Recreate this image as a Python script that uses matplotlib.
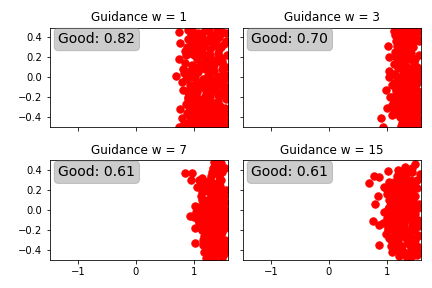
import matplotlib
matplotlib.use("Agg")
import matplotlib.pyplot as plt

weights = [1, 3, 7, 15]
good = [0.82, 0.70, 0.61, 0.61]

x1 = [0.74,0.77,0.74,0.70,0.82,0.76,0.80,0.75,0.90,0.88,0.85,0.82,0.80,0.90,0.88,0.92,0.95,
      0.98,1.02,1.00,0.97,0.95,1.00,1.02,0.98,1.00,1.08,1.10,1.05,1.08,1.12,1.06,1.10,1.05,1.12,
      1.20,1.18,1.22,1.20,1.16,1.22,1.18,1.20,1.16,1.30,1.28,1.32,1.26,1.30,1.28,1.32,1.26,1.30,
      1.40,1.38,1.42,1.36,1.40,1.38,1.42,1.36,1.40,1.50,1.48,1.45,1.50,1.52,1.48,1.45,1.50,1.54,
      1.57,1.58,1.56,1.58,1.57,1.55,1.58,0.93,1.03,1.15,1.25,1.35,1.45,1.24,1.34,0.85,0.98,
      0.90,0.92,0.88,0.92,1.04,1.03,1.06,1.04,1.14,1.13,1.14,1.12,1.24,1.22,1.23,1.34,1.33,1.34,
      1.44,1.44,1.44,1.53,1.53,1.52,0.86,0.94,1.02,1.10,1.18,1.26,1.34,1.42,1.50,1.10,1.30,1.46,
      0.96,1.14,1.26,1.36,1.46,1.56,1.00,1.16,1.34,1.44,0.90,1.08,1.20,1.28,1.40,1.50,0.84,1.00,1.12,1.24,1.36,1.46,
      0.86,1.02,1.14,1.28,1.38,1.56,0.94,1.06,1.18,1.30,1.42,1.52,0.90,1.04,1.20,1.32,1.44,1.56,0.86,1.00,1.10,1.24,1.36,1.52,
      0.96,1.12,1.26,1.38,1.46,1.58,0.92,1.08,1.18,1.30,1.40,1.50,0.84,0.96,1.16,1.28,1.38,1.46,0.90,1.02,1.14,1.24,1.34,1.44,1.56]
y1 = [0.45,0.34,0.18,0.01,-0.13,-0.32,-0.41,-0.50,0.48,0.30,0.14,0.08,-0.05,-0.22,-0.36,-0.45,0.00,
      0.47,0.40,0.22,0.12,-0.10,-0.18,-0.30,-0.40,-0.49,0.44,0.30,0.18,0.05,-0.05,-0.15,-0.26,-0.38,-0.47,
      0.46,0.33,0.22,0.08,-0.02,-0.14,-0.25,-0.36,-0.46,0.42,0.28,0.16,0.04,-0.08,-0.20,-0.30,-0.41,-0.49,
      0.47,0.36,0.24,0.12,0.00,-0.12,-0.24,-0.33,-0.44,0.45,0.30,0.20,0.08,-0.03,-0.18,-0.29,-0.40,-0.48,
      0.36,0.22,0.10,-0.10,-0.22,-0.31,-0.44,0.24,0.00,0.40,0.36,-0.02,0.16,-0.36,0.07,0.26,0.33,
      0.38,0.06,-0.14,-0.30,0.34,0.10,-0.22,-0.33,0.24,0.13,-0.10,-0.31,0.12,-0.08,-0.30,0.34,-0.14,-0.38,
      -0.07,-0.36,0.40,0.33,-0.14,-0.46,0.22,-0.08,0.28,0.38,-0.40,0.48,-0.26,-0.49,0.14,-0.42,-0.46,0.30,
      0.43,0.44,0.38,0.41,0.43,0.44,0.28,0.30,0.31,0.28,0.24,0.21,0.18,0.22,0.18,0.16,0.04,0.03,0.12,0.00,0.06,0.01,
      -0.02,-0.07,-0.06,-0.02,-0.05,0.02,-0.14,-0.12,-0.10,-0.14,-0.18,-0.10,-0.20,-0.20,-0.19,-0.12,-0.16,-0.17,-0.27,-0.25,-0.22,-0.26,-0.28,-0.16,
      -0.33,-0.35,-0.28,-0.36,-0.30,-0.36,-0.38,-0.42,-0.40,-0.34,-0.36,-0.34,-0.46,-0.44,-0.44,-0.44,-0.46,-0.38,-0.49,-0.48,-0.49,-0.48,-0.49,-0.49,-0.48]

x2 = [1.03,1.04,1.04,0.99,1.00,0.90,0.93,1.05,1.12,1.17,1.15,1.13,1.12,1.10,1.06,1.09,1.13,1.16,
      1.25,1.22,1.28,1.25,1.22,1.28,1.25,1.22,1.28,1.25,1.35,1.32,1.38,1.35,1.32,1.38,1.35,1.32,1.38,1.34,
      1.45,1.42,1.47,1.44,1.42,1.47,1.44,1.42,1.47,1.43,1.55,1.57,1.53,1.57,1.55,1.57,1.52,1.56,1.50,1.30,1.20,1.40,1.50,
      1.18,1.20,1.18,1.20,1.16,1.28,1.30,1.28,1.30,1.38,1.38,1.38,1.46,1.48,1.50,1.52,1.24,1.33,1.40,1.34,1.44,1.28,
      1.56,1.52,1.58,1.22,
      1.14,1.24,1.34,1.42,1.18,1.26,1.36,1.46,1.56,1.16,1.28,1.38,1.50,1.20,1.30,1.40,1.54,1.14,1.24,1.34,1.44,1.55,
      1.12,1.22,1.32,1.42,1.52,1.16,1.26,1.36,1.48,1.10,1.22,1.30,1.40,1.50,1.18,1.28,1.38,1.46,1.56,1.12,1.22,1.34,1.44,1.54,
      1.10,1.20,1.30,1.40,1.50,1.12,1.24,1.36,1.46,1.56,1.26,1.34,1.42,1.52,1.30,1.40,1.50,1.58]
y2 = [0.31,0.20,0.06,-0.13,-0.31,-0.41,-0.50,0.00,0.46,0.36,0.25,0.13,0.03,-0.08,-0.20,-0.28,-0.37,-0.25,
      0.47,0.30,0.20,0.12,0.00,-0.10,-0.22,-0.34,-0.42,-0.49,0.47,0.36,0.24,0.10,-0.05,-0.15,-0.28,-0.40,-0.48,0.44,
      0.48,0.24,0.14,0.04,-0.08,-0.20,-0.32,-0.43,-0.49,0.40,0.46,0.22,0.10,-0.02,-0.14,-0.26,-0.36,-0.45,0.38,0.15,-0.16,-0.36,-0.10,
      0.42,0.18,-0.04,-0.30,-0.12,0.38,0.26,-0.16,-0.38,0.32,0.04,-0.22,0.30,-0.26,-0.40,-0.20,0.40,-0.45,-0.30,-0.10,0.18,0.06,
      -0.32,0.40,0.48,0.26,
      0.42,0.43,0.41,0.44,0.31,0.34,0.30,0.35,0.36,0.20,0.22,0.18,0.18,0.09,0.10,0.08,0.06,0.02,-0.02,0.02,-0.01,0.04,
      -0.06,-0.06,-0.08,-0.03,-0.06,-0.14,-0.13,-0.12,-0.12,-0.20,-0.18,-0.20,-0.17,-0.18,-0.26,-0.28,-0.24,-0.26,-0.20,-0.33,-0.31,-0.34,-0.29,-0.30,
      -0.38,-0.36,-0.42,-0.38,-0.34,-0.24,-0.40,-0.44,-0.40,-0.42,-0.46,-0.47,-0.45,-0.46,-0.49,-0.49,-0.49,-0.49]

x3 = [0.85,0.97,0.95,1.05,1.10,1.02,1.04,0.93,1.00,1.03,1.10,1.03,1.15,1.18,1.12,1.20,1.16,1.22,1.14,1.20,1.16,1.18,1.22,
      1.30,1.28,1.32,1.26,1.30,1.28,1.32,1.26,1.30,1.34,1.28,1.38,1.42,1.36,1.40,1.38,1.42,1.36,1.40,1.38,1.42,1.36,
      1.48,1.50,1.46,1.50,1.46,1.50,1.48,1.46,1.50,1.42,1.55,1.57,1.55,1.52,1.56,1.57,1.35,1.25,1.42,1.52,
      1.14,1.12,1.14,1.10,1.16,1.14,1.22,1.22,1.22,1.24,1.24,1.34,1.33,1.34,1.34,1.33,1.44,1.43,1.44,1.45,1.44,1.52,1.54,1.55,1.32,1.28,1.40,1.50,
      1.12,1.20,1.30,1.40,1.48,1.14,1.24,1.34,1.44,1.54,1.16,1.26,1.36,1.46,1.10,1.18,1.30,1.40,1.50,1.08,1.18,1.28,1.38,1.48,1.56,
      1.08,1.18,1.28,1.38,1.48,1.14,1.24,1.34,1.44,1.54,1.10,1.20,1.30,1.40,1.50,1.14,1.24,1.34,1.44,1.18,1.28,1.38,1.48,1.56,1.22,1.32,1.42,1.52]
y3 = [0.37,0.37,0.30,0.23,0.30,0.04,-0.02,-0.06,-0.07,-0.18,-0.12,-0.33,0.32,0.22,0.14,0.06,-0.02,-0.10,-0.20,-0.28,-0.35,-0.42,-0.48,
      0.34,0.24,0.14,0.05,-0.05,-0.15,-0.25,-0.34,-0.44,-0.48,0.30,0.46,0.28,0.18,0.08,-0.02,-0.12,-0.24,-0.36,-0.46,-0.42,0.40,
      0.47,0.38,0.24,0.10,0.02,-0.10,-0.24,-0.36,-0.48,0.36,0.42,0.20,-0.08,0.14,-0.02,-0.40,0.48,-0.40,0.44,-0.44,
      0.10,0.00,-0.14,-0.04,-0.30,0.30,0.28,0.00,-0.16,-0.30,-0.42,0.42,0.10,-0.10,-0.30,-0.40,0.34,0.02,-0.18,-0.30,-0.45,0.02,-0.14,-0.30,0.38,0.18,0.12,-0.02,
      0.26,0.24,0.28,0.24,0.30,0.18,0.19,0.20,0.18,0.08,0.10,0.11,0.13,0.08,0.03,0.05,0.02,0.04,0.06,-0.01,-0.04,-0.03,-0.06,-0.07,-0.02,-0.10,
      -0.10,-0.11,-0.14,-0.16,-0.10,-0.17,-0.18,-0.16,-0.18,-0.08,-0.23,-0.22,-0.20,-0.22,-0.20,-0.27,-0.28,-0.26,-0.26,-0.35,-0.33,-0.32,-0.34,-0.24,-0.41,-0.44,-0.38,-0.40]

x4 = [0.70,0.78,0.87,1.02,0.85,0.80,0.77,0.87,0.87,0.99,1.10,0.96,0.96,1.05,1.12,1.04,1.10,1.02,1.15,1.12,1.06,1.12,1.18,
      1.20,1.25,1.18,1.24,1.20,1.26,1.18,1.24,1.20,1.26,1.32,1.30,1.35,1.30,1.35,1.30,1.35,1.30,1.36,1.33,1.50,1.44,1.40,
      1.45,1.40,1.46,1.40,1.46,1.42,1.52,1.56,1.50,1.54,1.52,1.42,1.25,1.58,1.52,1.00,1.08,
      1.06,1.12,1.18,1.04,1.08,1.16,1.12,1.05,1.14,1.20,1.26,1.28,1.34,1.20,1.26,1.22,1.26,1.36,1.34,1.40,1.38,1.44,1.46,1.50,1.50,1.18,1.30,1.38,1.42,1.32,1.44,1.16,
      1.24,1.34,1.44,1.22,1.32,1.42,1.52,1.10,1.22,1.30,1.44,1.00,1.12,1.24,1.34,1.50,1.08,1.20,1.30,1.42,1.54,1.02,1.14,1.28,1.40,1.50,
      1.10,1.20,1.32,1.44,1.00,1.14,1.26,1.38,1.54,0.94,1.06,1.18,1.30,1.44,1.56,1.02,1.12,1.24,1.36,1.48,1.08,1.20,1.32,1.42,1.54,1.14,1.26,1.38,1.48,1.12,1.22,1.34,1.44,1.56]
y4 = [0.27,0.34,0.33,0.39,0.14,0.06,-0.11,-0.15,-0.35,-0.24,-0.42,0.23,-0.02,0.28,0.18,0.10,-0.10,-0.18,-0.32,-0.26,0.00,0.05,0.34,
      0.24,0.14,0.04,-0.04,-0.14,-0.24,-0.38,-0.42,-0.30,0.30,0.43,0.32,0.20,0.06,-0.05,-0.18,-0.30,-0.42,-0.48,0.40,0.46,0.38,0.24,
      0.10,0.00,-0.12,-0.26,-0.36,-0.46,0.22,0.06,-0.04,-0.25,-0.36,0.16,-0.08,0.36,-0.45,0.20,-0.36,
      0.22,0.28,0.24,0.03,-0.05,0.08,-0.16,-0.28,-0.24,-0.34,0.18,0.00,0.12,0.40,0.36,-0.18,-0.44,0.24,-0.24,0.14,0.06,-0.18,0.04,-0.30,0.28,-0.04,-0.12,-0.30,-0.38,-0.10,-0.42,-0.40,
      0.38,0.36,0.42,0.30,0.27,0.30,0.30,0.24,0.20,0.22,0.18,0.16,0.13,0.16,0.12,0.14,0.07,0.09,0.10,0.08,0.02,0.01,-0.01,0.02,0.03,0.00,
      -0.05,-0.06,-0.04,-0.07,-0.08,-0.09,-0.10,-0.08,-0.10,-0.13,-0.14,-0.13,-0.16,-0.14,-0.16,-0.20,-0.20,-0.22,-0.21,-0.20,-0.30,-0.28,-0.27,-0.29,-0.26,-0.35,-0.36,-0.34,-0.33,-0.38,-0.46,-0.44,-0.46,-0.42]

xs = [x1, x2, x3, x4]
ys = [y1, y2, y3, y4]
y_ticks = [-0.4, -0.2, 0.0, 0.2, 0.4]
x_ticks = [-1, 0, 1]

fig, axes = plt.subplots(2, 2, figsize=(6, 4), dpi=72, sharex=True, sharey=True)
fig.subplots_adjust(left=0.1146, right=0.975, top=0.9045, bottom=0.097, wspace=0.08, hspace=0.33)
for ax, w, g, x, y in zip(axes.flat, weights, good, xs, ys):
    n = min(len(x), len(y))
    ax.scatter(x[:n], y[:n], s=55, c="red", alpha=1.0)
    ax.set_xlim(-1.5, 1.6)
    ax.set_ylim(-0.5, 0.5)
    ax.set_xticks(x_ticks)
    ax.set_yticks(y_ticks)
    ax.set_title(f"Guidance w = {w}", fontsize=12, pad=6.5)
    ax.tick_params(labelsize=10, length=3.5, pad=3.5)
    ax.text(0.05, 0.95, f"Good: {g:.2f}", transform=ax.transAxes, fontsize=14,
            va="top", ha="left",
            bbox=dict(boxstyle="round", facecolor="gray", edgecolor="gray", alpha=0.4))
fig.savefig("out.png", dpi=72)
